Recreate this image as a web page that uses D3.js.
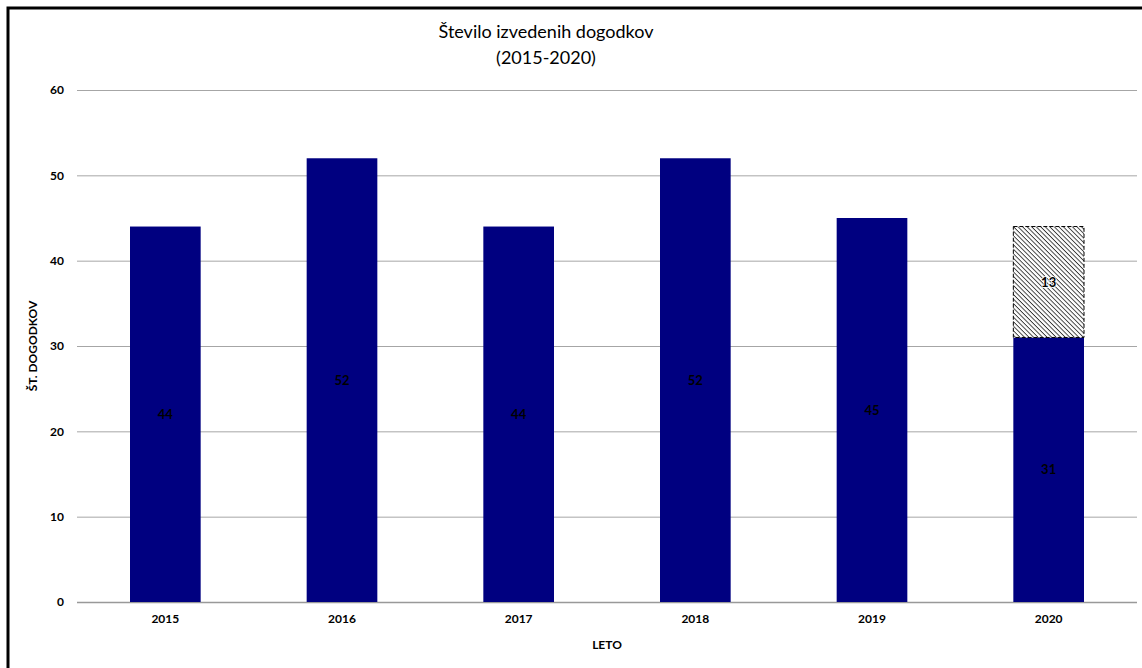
<!DOCTYPE html>
<html>
<head>
<meta charset="utf-8">
<script src="https://cdn.jsdelivr.net/npm/d3@7"></script>
<style>
  body { margin: 0; background: #fff; }
  text { font-family: Lato, "Open Sans", sans-serif; }
</style>
</head>
<body>
<div id="chart"></div>
<script>
const WIDTH = 1142;
const HEIGHT = 668;

const MARGIN = { top: 90, bottom: 66, left: 77, right: 5 };

// podatki
const years = ["2015", "2016", "2017", "2018", "2019", "2020"];
const held = [44, 52, 44, 52, 45, 31];
const cancelled = [0, 0, 0, 0, 0, 13];
const yTicks = [0, 10, 20, 30, 40, 50, 60];

const SVG = d3.select("#chart").append("svg")
  .attr("width", WIDTH)
  .attr("height", HEIGHT);

// vzorec za odpadle dogodke
const defs = SVG.append("defs");
const pattern = defs.append("pattern")
  .attr("id", "hatch")
  .attr("patternUnits", "userSpaceOnUse")
  .attr("width", 3.2)
  .attr("height", 3.2)
  .attr("patternTransform", "rotate(45)");
pattern.append("rect").attr("width", 3.2).attr("height", 3.2).attr("fill", "#fff");
pattern.append("line")
  .attr("x1", 0).attr("y1", 0).attr("x2", 3.2).attr("y2", 0)
  .attr("stroke", "#333").attr("stroke-width", 1.8);

// okvir
SVG.append("path")
  .attr("d", `M8,${HEIGHT + 5} L8,8 L${WIDTH + 5},8`)
  .attr("fill", "none")
  .attr("stroke", "#000")
  .attr("stroke-width", 3);

const plotW = WIDTH - MARGIN.left - MARGIN.right;
const plotH = HEIGHT - MARGIN.top - MARGIN.bottom;

const x = d3.scaleBand()
  .domain(years)
  .range([MARGIN.left, MARGIN.left + plotW])
  .paddingInner(0.6)
  .paddingOuter(0.3);

const y = d3.scaleLinear()
  .domain([0, 60])
  .range([MARGIN.top + plotH, MARGIN.top]);

// mreža
SVG.append("g")
  .selectAll("line")
  .data(yTicks)
  .join("line")
  .attr("x1", MARGIN.left)
  .attr("x2", MARGIN.left + plotW)
  .attr("y1", d => y(d) + 0.5)
  .attr("y2", d => y(d) + 0.5)
  .attr("stroke", d => d === 0 ? "#999" : "#a6a6a6")
  .attr("stroke-width", d => d === 0 ? 1.5 : 1);

// y os
const yAxis = SVG.append("g")
  .attr("transform", `translate(${MARGIN.left - 13},0)`)
  .call(d3.axisLeft(y).tickValues(yTicks).tickSize(0).tickPadding(0));
yAxis.select(".domain").remove();
yAxis.selectAll("text")
  .attr("font-size", 12)
  .attr("font-weight", "bold")
  .attr("fill", "#000")
  .style("font-family", "Lato, sans-serif");

// x os
const xAxis = SVG.append("g")
  .attr("transform", `translate(0,${MARGIN.top + plotH + 12})`)
  .call(d3.axisBottom(x).tickSize(0).tickPadding(0));
xAxis.select(".domain").remove();
xAxis.selectAll("text")
  .attr("font-size", 12)
  .attr("font-weight", "bold")
  .attr("fill", "#000")
  .style("font-family", "Lato, sans-serif");

// stolpci - izvedeni
SVG.append("g")
  .selectAll("rect")
  .data(years)
  .join("rect")
  .attr("x", d => x(d))
  .attr("width", x.bandwidth())
  .attr("y", (d, i) => y(held[i]))
  .attr("height", (d, i) => y(0) - y(held[i]))
  .attr("fill", "#000080");

// stolpci - odpadli
SVG.append("g")
  .selectAll("rect")
  .data(years.filter((d, i) => cancelled[i] > 0))
  .join("rect")
  .attr("x", d => x(d))
  .attr("width", x.bandwidth())
  .attr("y", d => y(held[years.indexOf(d)] + cancelled[years.indexOf(d)]))
  .attr("height", d => y(held[years.indexOf(d)]) - y(held[years.indexOf(d)] + cancelled[years.indexOf(d)]))
  .attr("fill", "url(#hatch)")
  .attr("stroke", "#000")
  .attr("stroke-width", 1)
  .attr("stroke-dasharray", "4,2");

// oznake
SVG.append("g")
  .selectAll("text")
  .data(years)
  .join("text")
  .attr("x", d => x(d) + x.bandwidth() / 2)
  .attr("y", (d, i) => y(held[i] / 2))
  .attr("dy", "0.35em")
  .attr("text-anchor", "middle")
  .attr("font-size", 13)
  .attr("font-weight", "bold")
  .attr("fill", "#000")
  .text((d, i) => held[i]);

SVG.append("g")
  .selectAll("text")
  .data(years.filter((d, i) => cancelled[i] > 0))
  .join("text")
  .attr("x", d => x(d) + x.bandwidth() / 2)
  .attr("y", d => {
    const i = years.indexOf(d);
    return y(held[i] + cancelled[i] / 2);
  })
  .attr("dy", "0.35em")
  .attr("text-anchor", "middle")
  .attr("font-size", 13)
  .attr("font-weight", "bold")
  .attr("fill", "#000")
  .attr("paint-order", "stroke")
  .attr("stroke", "#fff")
  .attr("stroke-width", 1.5)
  .text(d => cancelled[years.indexOf(d)]);

// naslovi
const title = SVG.append("text")
  .attr("x", 546)
  .attr("y", 38)
  .attr("text-anchor", "middle")
  .attr("font-size", 18)
  .attr("fill", "#000");
title.append("tspan").attr("x", 546).text("Število izvedenih dogodkov");
title.append("tspan").attr("x", 546).attr("dy", 26).text("(2015-2020)");

SVG.append("text")
  .attr("transform", `translate(37,${MARGIN.top + plotH / 2}) rotate(-90)`)
  .attr("text-anchor", "middle")
  .attr("font-size", 12)
  .attr("font-weight", "bold")
  .attr("fill", "#000")
  .text("ŠT. DOGODKOV");

SVG.append("text")
  .attr("x", MARGIN.left + plotW / 2)
  .attr("y", 649)
  .attr("text-anchor", "middle")
  .attr("font-size", 12)
  .attr("font-weight", "bold")
  .attr("fill", "#000")
  .text("LETO");
</script>
</body>
</html>
